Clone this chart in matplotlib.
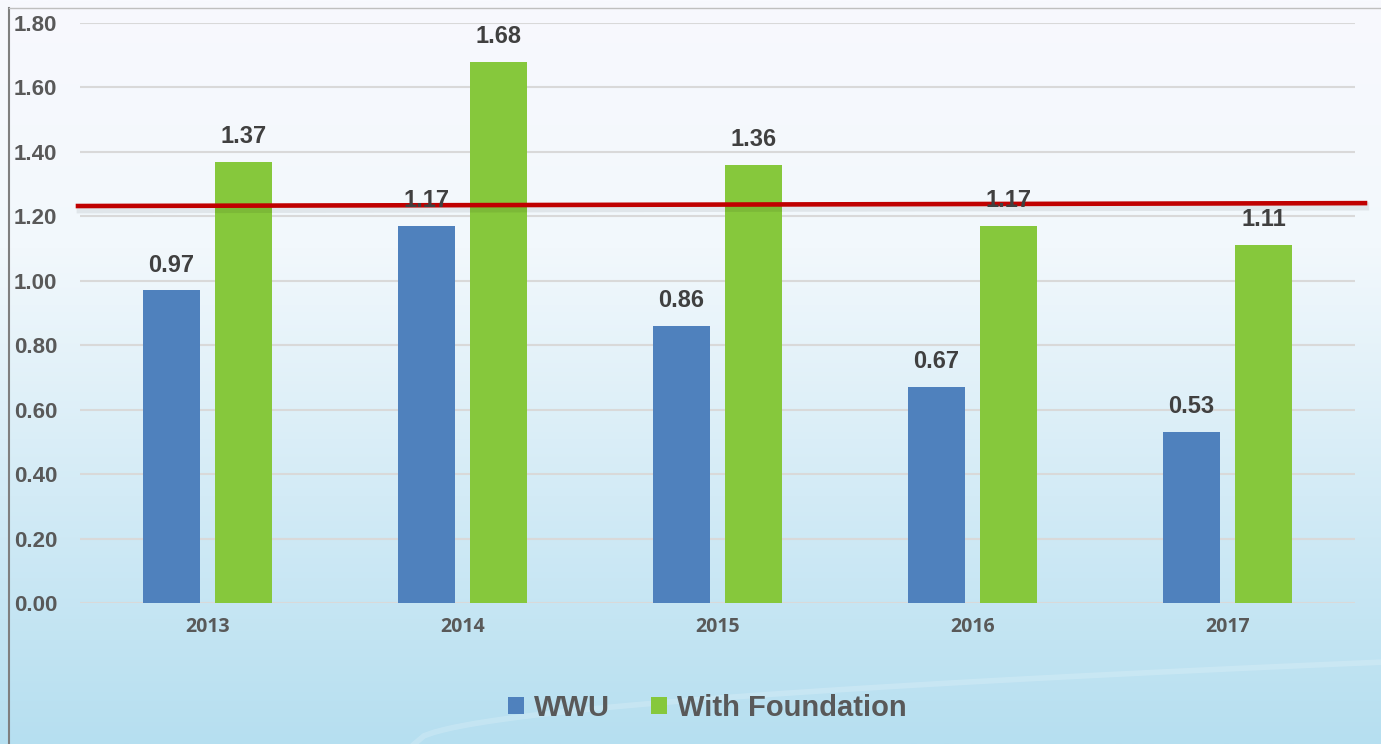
import numpy as np
import matplotlib.pyplot as plt
from matplotlib.colors import LinearSegmentedColormap
import matplotlib.transforms as mtransforms

years = ["2013", "2014", "2015", "2016", "2017"]
wwu = [0.97, 1.17, 0.86, 0.67, 0.53]
with_foundation = [1.37, 1.68, 1.36, 1.17, 1.11]
benchmark = [1.232, 1.241]  # red line, left end and right end
yticks = [0.0, 0.2, 0.4, 0.6, 0.8, 1.0, 1.2, 1.4, 1.6, 1.8]

blue = "#4F81BD"
green = "#86C83C"
text_col = "#404040"

fig = plt.figure(figsize=(13.81, 7.44), dpi=100)

# background gradient
bg = fig.add_axes([0, 0, 1, 1], zorder=-10)
cmap = LinearSegmentedColormap.from_list("bg", ["#f8f9fe", "#f2f8fc", "#d3ebf6", "#b6dff0"])
grad = np.linspace(0, 1, 256).reshape(-1, 1)
bg.imshow(grad, aspect="auto", cmap=cmap, extent=[0, 1, 0, 1], origin="upper")
t = np.linspace(0.3, 1.0, 100)
bg.plot(t, 0.11 * np.sqrt((t - 0.3) / 0.7) + 0.0, color="white", alpha=0.18, lw=4)
bg.plot([9 / 1381, 9 / 1381], [0, 1 - 8 / 744], color="#7f7f7f", lw=1.5)
bg.plot([9 / 1381, 1], [1 - 8 / 744, 1 - 8 / 744], color="#bfbfbf", lw=1)
bg.set_xlim(0, 1)
bg.set_ylim(0, 1)
bg.axis("off")

ax = fig.add_axes([80 / 1381, 1 - 603 / 744, 1275 / 1381, 580 / 744])
ax.patch.set_alpha(0)

x = np.arange(len(years))
w = 0.2235
off = 0.143
b1 = ax.bar(x - off, wwu, w, color=blue, label="WWU", zorder=3)
b2 = ax.bar(x + off, with_foundation, w, color=green, label="With Foundation", zorder=3)

for bars, vals in [(b1, wwu), (b2, with_foundation)]:
    for rect, v in zip(bars, vals):
        ax.annotate(f"{v:.2f}", (rect.get_x() + rect.get_width() / 2, v),
                    xytext=(0, 10), textcoords="offset points", ha="center", va="bottom",
                    fontsize=17, fontweight="bold", color=text_col,
                    family="Liberation Sans", zorder=6)

# red benchmark line with soft shadow
trans = mtransforms.blended_transform_factory(fig.transFigure, ax.transData)
xl, xr = 78 / 1381, 1365 / 1381
ax.plot([xl + 0.002, xr], [b - 0.01 for b in benchmark], transform=trans, color="#000000",
        alpha=0.07, lw=6, zorder=4, clip_on=False)
ax.plot([xl, xr], benchmark, transform=trans, color="#C00000", lw=3.3, zorder=5, clip_on=False)

ax.set_ylim(0, 1.8)
ax.set_xlim(-0.5, len(years) - 0.5)
ax.set_yticks(yticks)
ax.set_yticklabels([f"{v:.2f}" for v in yticks], fontsize=16, fontweight="bold",
                   color="#595959", family="Liberation Sans", ha="left")
ax.tick_params(axis="y", length=0, pad=47.5)
ax.set_xticks(x)
ax.set_xticklabels(years, fontsize=14, fontweight="bold", color="#595959", family="Open Sans")
ax.tick_params(axis="x", length=0, pad=10)
ax.grid(axis="y", color="#d9d9d9", lw=1.5, zorder=0)
for s in ax.spines.values():
    s.set_visible(False)

leg = fig.legend(handles=[b1, b2], loc="center", bbox_to_anchor=(0.512, 1 - 708 / 744),
                 ncol=2, frameon=False, handlelength=0.55, handleheight=0.55,
                 handletextpad=0.35, columnspacing=1.4,
                 prop={"family": "Liberation Sans", "weight": "bold", "size": 21})
for txt in leg.get_texts():
    txt.set_color("#595959")

fig.savefig("out.png", dpi=100)
